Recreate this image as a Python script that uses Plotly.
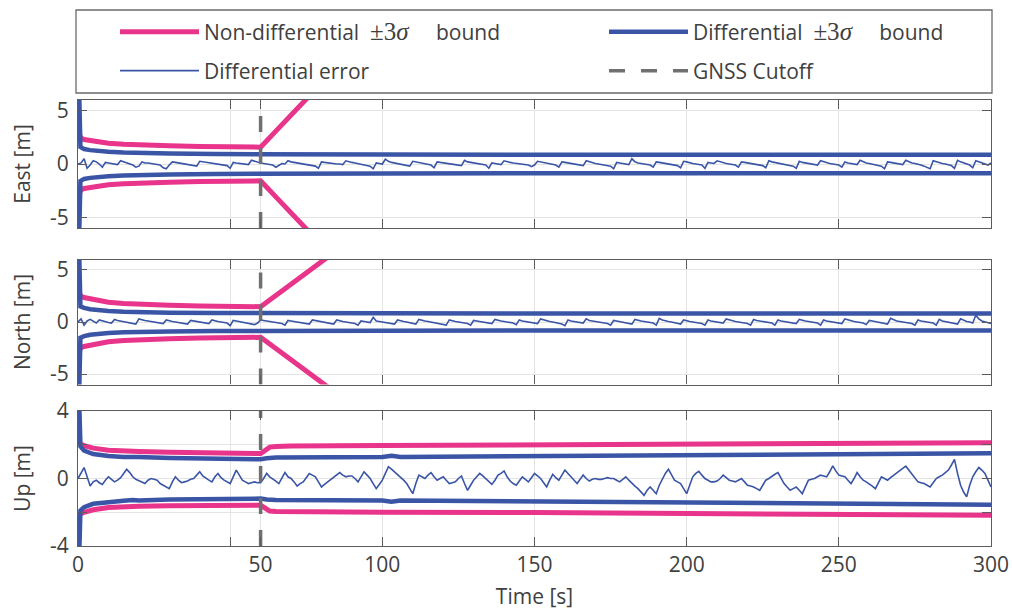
import plotly.graph_objects as go

# ---------------- data ----------------
t_err = list(range(0, 301))

east_err = [
    0.0, 0.1, 0.5, -0.4, -0.1, 0.3, 0.2, 0.0, -0.3, 0.15, 0.1, 0.05, 0.0, -0.05, 0.3, 0.2, 0.1, 0.05, -0.1, -0.3,
    -0.2, 0.2, 0.1, 0.1, 0.05, 0.0, -0.05, -0.1, -0.35, -0.45, -0.1, 0.2, 0.15, 0.1, 0.1, 0.05, 0.0, -0.05, -0.1, -0.2,
    0.25, 0.2, 0.15, 0.1, 0.1, 0.05, 0.0, -0.05, -0.1, -0.15, -0.4, 0.15, 0.1, 0.05, 0.05, 0.0, -0.05, 0.35, 0.25, 0.15,
    0.1, 0.05, 0.0, -0.05, -0.1, -0.3, -0.1, 0.05, 0.0, 0.3, 0.2, 0.15, 0.1, 0.05, 0.0, -0.05, -0.1, -0.15, -0.2, -0.4,
    0.2, 0.15, 0.1, 0.1, 0.05, 0.0, 0.0, -0.05, 0.3, 0.2, 0.15, 0.1, 0.05, 0.0, -0.05, -0.1, -0.2, -0.45, 0.1, 0.05,
    0.0, 0.45, 0.25, 0.15, 0.1, 0.05, 0.0, -0.05, -0.1, -0.2, 0.25, 0.2, 0.1, 0.05, 0.0, -0.05, -0.1, -0.35, 0.2, 0.15,
    0.1, 0.05, 0.05, 0.0, -0.05, -0.1, -0.15, 0.35, 0.2, 0.15, 0.1, 0.05, 0.0, -0.05, -0.1, -0.4, 0.1, 0.05, 0.0, -0.05,
    0.3, 0.2, 0.15, 0.1, 0.05, 0.05, 0.0, -0.05, -0.1, -0.25, -0.1, 0.25, 0.2, 0.1, 0.05, 0.0, -0.05, -0.1, -0.3, 0.2,
    0.15, 0.1, 0.05, 0.0, -0.05, -0.1, -0.15, 0.3, 0.2, 0.1, 0.05, 0.0, -0.05, -0.1, -0.15, -0.2, -0.45, 0.15, 0.1, 0.05,
    0.0, -0.05, 0.5, 0.2, 0.1, 0.05, 0.0, -0.05, -0.1, -0.3, 0.2, 0.15, 0.1, 0.05, 0.0, -0.05, -0.1, -0.15, -0.35, 0.25,
    0.2, 0.1, 0.05, 0.0, -0.05, -0.1, -0.4, 0.15, 0.1, 0.05, 0.3, 0.2, 0.1, 0.05, 0.0, -0.05, -0.1, -0.3, 0.2, 0.15,
    0.1, 0.05, 0.0, -0.05, -0.1, -0.15, -0.35, 0.3, 0.2, 0.15, 0.1, 0.05, 0.0, -0.05, -0.1, -0.2, -0.4, 0.25, 0.15, 0.1,
    0.05, 0.0, -0.05, -0.1, 0.3, 0.2, 0.1, 0.05, 0.0, -0.05, -0.1, -0.3, 0.2, 0.1, 0.05, 0.0, -0.05, 0.35, 0.2, 0.1,
    0.05, 0.0, -0.05, -0.1, -0.2, -0.45, 0.2, 0.15, 0.1, 0.05, 0.0, -0.05, 0.35, 0.2, 0.1, 0.05, 0.0, -0.1, -0.2, -0.3,
    -0.45, 0.3, 0.2, 0.1, 0.05, 0.0, -0.05, -0.15, -0.4, 0.35, 0.2, 0.1, 0.0, -0.1, -0.35, 0.3, 0.2, 0.1, 0.0, -0.1,
    0.1]

north_err = [
    0.0, 0.3, -0.3, 0.1, 0.25, 0.05, -0.1, 0.2, 0.1, 0.0, -0.05, -0.1, 0.25, 0.15, 0.1, 0.05, 0.0, -0.05, -0.1, -0.2,
    0.3, 0.2, 0.15, 0.1, 0.05, 0.0, -0.05, -0.1, -0.15, 0.2, 0.1, 0.05, 0.0, -0.05, -0.1, -0.15, -0.2, 0.15, 0.1, 0.0,
    -0.05, -0.1, -0.1, -0.15, 0.2, 0.1, 0.05, 0.0, -0.05, -0.1, -0.35, 0.15, 0.1, 0.05, 0.0, -0.05, -0.1, -0.15, -0.25, -0.1,
    0.2, 0.15, 0.1, 0.05, 0.0, -0.05, -0.1, -0.15, -0.3, 0.15, 0.1, 0.05, 0.0, -0.05, -0.1, -0.15, -0.2, 0.2, 0.15, 0.1,
    0.05, 0.0, -0.05, -0.1, -0.2, 0.2, 0.1, 0.05, 0.0, -0.05, -0.1, -0.15, -0.3, 0.1, 0.05, 0.0, -0.05, 0.45, 0.1, 0.05,
    0.0, -0.05, -0.1, -0.15, -0.2, 0.2, 0.1, 0.05, 0.0, -0.05, -0.1, -0.2, 0.25, 0.15, 0.1, 0.05, 0.0, -0.05, -0.1, -0.15,
    -0.25, -0.3, 0.2, 0.1, 0.05, 0.0, -0.05, -0.1, -0.15, -0.3, 0.15, 0.1, 0.05, 0.0, -0.05, -0.1, -0.15, 0.25, 0.15, 0.1,
    0.05, 0.0, -0.05, -0.1, -0.25, 0.2, 0.1, 0.05, 0.0, -0.05, -0.1, -0.15, 0.3, 0.2, 0.1, 0.05, 0.0, -0.05, -0.1, -0.2,
    -0.35, 0.2, 0.1, 0.05, 0.0, -0.05, -0.1, 0.3, 0.15, 0.1, 0.05, 0.0, -0.05, -0.1, -0.15, -0.3, 0.15, 0.1, 0.05, 0.0,
    -0.05, -0.1, -0.2, 0.25, 0.15, 0.1, 0.05, 0.0, -0.05, -0.1, -0.3, 0.35, 0.2, 0.1, 0.05, 0.0, -0.05, -0.1, -0.2, 0.2,
    0.1, 0.05, 0.0, -0.05, -0.1, -0.15, -0.3, 0.2, 0.1, 0.05, 0.0, -0.05, -0.1, 0.3, 0.2, 0.1, 0.05, 0.0, -0.05, -0.1,
    -0.15, -0.3, 0.25, 0.15, 0.1, 0.05, 0.0, -0.05, -0.1, -0.3, 0.2, 0.1, 0.05, 0.0, -0.05, -0.1, -0.15, 0.25, 0.15, 0.1,
    0.05, 0.0, -0.05, -0.1, -0.3, 0.2, 0.1, 0.05, 0.0, -0.05, -0.1, -0.15, 0.3, 0.2, 0.1, 0.05, 0.0, -0.05, -0.1, -0.25,
    0.15, 0.1, 0.05, 0.0, -0.05, -0.1, -0.2, 0.35, 0.2, 0.1, 0.05, 0.0, -0.05, -0.1, -0.15, -0.3, 0.2, 0.1, 0.05, 0.0,
    -0.05, -0.1, -0.3, 0.25, 0.1, 0.05, 0.0, -0.05, -0.1, -0.2, 0.3, 0.15, 0.05, 0.0, -0.1, 0.65, 0.3, 0.1, 0.0, -0.1,
    -0.15]

up_err = [
    0.0, 0.3, 0.65, 0.1, -0.45, -0.2, -0.1, -0.25, -0.35, -0.1, 0.1, -0.05, -0.2, -0.1, 0.05, 0.3, 0.55, 0.35, 0.1, -0.05,
    -0.15, -0.2, -0.3, -0.1, 0.0, -0.05, -0.1, -0.3, -0.4, -0.5, -0.6, -0.2, 0.1, -0.1, -0.25, -0.2, -0.15, -0.05, 0.0, 0.2,
    0.4, 0.15, 0.0, -0.1, -0.2, 0.1, 0.3, 0.05, -0.1, -0.2, -0.3, 0.1, 0.5, 0.2, -0.1, -0.2, -0.3, -0.25, -0.2, -0.25,
    -0.25, 0.0, 0.3, 0.1, 0.0, -0.15, -0.3, 0.0, 0.35, 0.1, 0.0, -0.2, -0.45, -0.3, -0.2, 0.05, 0.3, 0.2, 0.1, -0.2,
    -0.5, -0.35, -0.2, -0.05, 0.1, 0.25, 0.35, 0.2, 0.1, 0.15, 0.15, 0.0, -0.2, 0.1, 0.4, 0.2, 0.0, -0.3, -0.6, -0.35,
    -0.1, 0.3, 0.7, 0.55, 0.4, 0.25, 0.1, -0.1, -0.3, -0.6, -0.9, -0.3, 0.2, 0.1, 0.0, 0.2, 0.35, 0.1, -0.1, 0.0,
    0.1, -0.1, -0.3, -0.25, -0.2, 0.0, 0.15, -0.3, -0.7, -0.4, -0.1, 0.1, 0.3, 0.15, 0.0, -0.2, -0.35, -0.1, 0.2, 0.3,
    0.45, 0.1, -0.15, -0.3, -0.4, -0.15, 0.1, -0.05, -0.2, 0.05, 0.3, 0.15, 0.0, -0.25, -0.5, -0.1, 0.25, 0.05, -0.1, 0.2,
    0.5, 0.3, 0.1, -0.1, -0.3, -0.05, 0.2, 0.0, -0.15, -0.05, 0.0, -0.05, -0.05, 0.0, 0.05, 0.0, 0.0, -0.1, -0.2, -0.05,
    0.1, -0.1, -0.3, -0.45, -0.6, -0.8, -1.0, -0.7, -0.5, -0.7, -0.9, -0.4, 0.0, 0.3, 0.55, 0.2, -0.1, -0.2, -0.3, -0.6,
    -0.9, -0.4, 0.1, 0.3, 0.43, 0.2, 0.0, -0.1, -0.2, -0.2, -0.15, 0.0, 0.2, 0.05, -0.1, -0.15, -0.2, -0.1, 0.0, -0.2,
    -0.4, -0.45, -0.5, -0.6, -0.7, -0.4, -0.1, 0.0, 0.15, 0.25, 0.35, 0.0, -0.3, -0.5, -0.7, -0.6, -0.5, -0.7, -0.9, -0.5,
    -0.1, -0.05, 0.0, 0.1, 0.2, 0.15, 0.1, 0.4, 0.75, 0.45, 0.2, 0.15, 0.1, -0.1, -0.3, 0.0, 0.35, 0.1, -0.1, -0.2,
    -0.3, -0.45, -0.6, -0.25, 0.1, 0.0, -0.1, 0.05, 0.2, 0.35, 0.5, 0.6, 0.73, 0.5, 0.3, 0.05, -0.2, -0.25, -0.3, -0.4,
    -0.5, -0.25, 0.0, 0.1, 0.2, 0.35, 0.5, 0.8, 1.13, 0.3, -0.4, -0.8, -1.09, -0.4, 0.1, 0.4, 0.65, 0.5, 0.3, -0.1,
    -0.5]

assert len(east_err) == len(t_err) and len(north_err) == len(t_err) and len(up_err) == len(t_err)

# non-differential +-3 sigma bounds (upper half; lower is symmetric)
t_nd_east = [0.3, 0.8, 2, 5, 10, 15, 20, 30, 40, 50, 60, 65, 70, 75, 80]
nd_east = [3.1, 2.45, 2.3, 2.15, 1.95, 1.85, 1.78, 1.7, 1.63, 1.6, 1.58, 3.08, 4.58, 6.08, 7.58]

t_nd_north = [0.3, 0.8, 2, 5, 10, 15, 20, 30, 40, 50, 60, 70, 80, 90]
nd_north = [3.0, 2.5, 2.35, 2.15, 1.9, 1.78, 1.7, 1.6, 1.53, 1.5, 1.47, 3.63, 5.79, 7.95]

t_nd_up = [0.3, 0.8, 2, 5, 10, 15, 20, 30, 40, 50, 60, 61, 62, 63, 65, 70, 100, 150, 200, 250, 300]
nd_up_hi = [2.2, 2.05, 1.95, 1.8, 1.68, 1.62, 1.6, 1.55, 1.52, 1.5, 1.48,
            1.6, 1.78, 1.86, 1.9, 1.92, 1.95, 1.98, 2.03, 2.08, 2.12]
nd_up_lo = [-2.2, -2.1, -2.0, -1.85, -1.72, -1.67, -1.64, -1.62, -1.6, -1.59, -1.58,
            -1.7, -1.85, -1.93, -1.96, -1.97, -2.0, -2.02, -2.07, -2.12, -2.18]

# differential +-3 sigma bounds
t_d = [0, 0.4, 0.8, 2, 4, 7, 10, 15, 20, 30, 45, 60, 100, 150, 200, 250, 300]
d_east = [8, 6.5, 1.6, 1.4, 1.3, 1.2, 1.15, 1.08, 1.03, 0.98, 0.93, 0.9, 0.88, 0.87, 0.86, 0.86, 0.86]
d_north = [8, 6.5, 1.5, 1.35, 1.22, 1.12, 1.05, 0.98, 0.94, 0.9, 0.86, 0.84, 0.83, 0.82, 0.82, 0.82, 0.82]

t_d_up = [0, 0.4, 0.8, 2, 5, 10, 15, 18, 20, 30, 40, 50, 60, 62, 65, 100, 103, 106, 150, 200, 250, 300]
d_up_hi = [5, 4.5, 1.9, 1.65, 1.45, 1.33, 1.28, 1.3, 1.27, 1.22, 1.18, 1.15, 1.14,
           1.2, 1.25, 1.28, 1.35, 1.28, 1.32, 1.36, 1.42, 1.49]
d_up_lo = [-5, -4.5, -1.9, -1.7, -1.5, -1.38, -1.32, -1.28, -1.3, -1.25, -1.22, -1.2, -1.19,
           -1.25, -1.28, -1.3, -1.38, -1.31, -1.35, -1.42, -1.48, -1.55]

gnss_cutoff = 60

x_tick_vals = [0, 50, 60, 100, 150, 200, 250, 300]
x_tick_text = ["0", "", "50", "100", "150", "200", "250", "300"]
en_tick_vals = [-5, 0, 5]
en_tick_text = ["-5", "0", "5"]
up_tick_vals = [-4, -2, 0, 2, 4]
up_tick_text = ["-4", "", "0", "", "4"]
panel_titles = ["East [m]", "North [m]", "Up [m]"]

# ---------------- style ----------------
PINK = "#E8348A"
BLUE = "#3A55A5"
GRAY = "#707070"
AX = "#5c5c5c"
TXT = "#404040"
FONT = "Open Sans"
FS = 21

fig = go.Figure()

NB = "\u00a0"
SIG = "<span style='font-family:Liberation Serif;font-size:25px'>±3<i>σ</i></span>"
names = {
    "nd": "Non-differential" + NB * 2 + SIG + NB * 5 + "bound",
    "d": "Differential" + NB * 2 + SIG + NB * 5 + "bound",
    "err": "Differential error",
    "cut": "GNSS Cutoff",
}

panels = [
    dict(xa="x", ya="y", t_nd=t_nd_east, nd_hi=nd_east, nd_lo=[-v for v in nd_east],
         t_d=t_d, d_hi=d_east, d_lo=[-v for v in d_east], err=east_err, yr=[-6, 6]),
    dict(xa="x2", ya="y2", t_nd=t_nd_north, nd_hi=nd_north, nd_lo=[-v for v in nd_north],
         t_d=t_d, d_hi=d_north, d_lo=[-v for v in d_north], err=north_err, yr=[-6, 6]),
    dict(xa="x3", ya="y3", t_nd=t_nd_up, nd_hi=nd_up_hi, nd_lo=nd_up_lo,
         t_d=t_d_up, d_hi=d_up_hi, d_lo=d_up_lo, err=up_err, yr=[-4, 4]),
]

for i, p in enumerate(panels):
    first = i == 0
    fig.add_trace(go.Scatter(
        x=p["t_nd"] + [None] + p["t_nd"], y=p["nd_hi"] + [None] + p["nd_lo"],
        mode="lines", line=dict(color=PINK, width=5), name=names["nd"],
        legend="legend", legendgroup="nd", showlegend=first,
        xaxis=p["xa"], yaxis=p["ya"], connectgaps=False))
    fig.add_trace(go.Scatter(
        x=p["t_d"] + [None] + p["t_d"], y=p["d_hi"] + [None] + p["d_lo"],
        mode="lines", line=dict(color=BLUE, width=4.5), name=names["d"],
        legend="legend2", legendgroup="d", showlegend=first,
        xaxis=p["xa"], yaxis=p["ya"], connectgaps=False))
    fig.add_trace(go.Scatter(
        x=t_err, y=p["err"], mode="lines", line=dict(color=BLUE, width=1.6),
        name=names["err"], legend="legend3", legendgroup="err", showlegend=first,
        xaxis=p["xa"], yaxis=p["ya"]))
    fig.add_trace(go.Scatter(
        x=[gnss_cutoff, gnss_cutoff], y=p["yr"], mode="lines",
        line=dict(color=GRAY, width=3.5, dash="16px,16px"),
        name=names["cut"], legend="legend4", legendgroup="cut", showlegend=first,
        xaxis=p["xa"], yaxis=p["ya"]))

# ---------------- layout ----------------
L, R, T, B = 78, 21, 100, 64
W, H = 1012, 610
ph = H - T - B


def yfrac(px):
    return (H - B - px) / ph


def xfrac(px):
    return (px - L) / (W - L - R)


domains = [[yfrac(228), 1.0], [yfrac(384.5), yfrac(259.5)], [0.0, yfrac(411)]]

common_x = dict(range=[0, 300], tickmode="array", tickvals=x_tick_vals, ticktext=x_tick_text,
                ticks="inside", ticklen=9, tickwidth=1.3, tickcolor=AX,
                showline=True, linecolor=AX, linewidth=1.3, mirror="allticks",
                showgrid=True, gridcolor="#e4e4e4", gridwidth=1, zeroline=False,
                tickfont=dict(family=FONT, size=FS, color=TXT))
common_y = dict(ticks="inside", ticklen=9, tickwidth=1.3, tickcolor=AX,
                showline=True, linecolor=AX, linewidth=1.3, mirror="allticks",
                showgrid=True, gridcolor="#e4e4e4", gridwidth=1, zeroline=False,
                tickfont=dict(family=FONT, size=FS, color=TXT), tickmode="array",
                ticklabelstandoff=4)

layout = dict(
    width=W, height=H, template="none",
    paper_bgcolor="white", plot_bgcolor="white",
    margin=dict(l=L, r=R, t=T, b=B, autoexpand=False),
    font=dict(family=FONT, size=FS, color=TXT),
)
for i in range(3):
    sx = "" if i == 0 else str(i + 1)
    xa = dict(common_x, anchor="y" + sx, domain=[0, 1], showticklabels=(i == 2))
    if i < 2:
        xa["matches"] = "x3"
    else:
        xa["title"] = dict(text="Time [s]", font=dict(family=FONT, size=FS, color=TXT), standoff=12)
    ya = dict(common_y, anchor="x" + sx, domain=domains[i],
              title=dict(text=panel_titles[i], font=dict(family=FONT, size=FS, color=TXT), standoff=13))
    if i < 2:
        ya.update(range=[-6, 6], tickvals=en_tick_vals, ticktext=en_tick_text)
    else:
        ya.update(range=[-4, 4], tickvals=up_tick_vals, ticktext=up_tick_text)
    layout["xaxis" + sx] = xa
    layout["yaxis" + sx] = ya

legend_common = dict(orientation="h", xref="paper", yref="paper", xanchor="left", yanchor="middle",
                     bgcolor="rgba(0,0,0,0)", borderwidth=0, itemwidth=79,
                     font=dict(family=FONT, size=FS, color=TXT), itemclick=False, itemdoubleclick=False)
col_px = [115, 604]
row_px = [32, 71]
layout["legend"] = dict(legend_common, x=xfrac(col_px[0]), y=yfrac(row_px[0]))
layout["legend2"] = dict(legend_common, x=xfrac(col_px[1]), y=yfrac(row_px[0]))
layout["legend3"] = dict(legend_common, x=xfrac(col_px[0]), y=yfrac(row_px[1]))
layout["legend4"] = dict(legend_common, x=xfrac(col_px[1]), y=yfrac(row_px[1]))

layout["shapes"] = [dict(type="rect", xref="paper", yref="paper",
                         x0=xfrac(76), x1=xfrac(992), y0=yfrac(93), y1=yfrac(10),
                         line=dict(color="#6b6b6b", width=1.3), fillcolor="rgba(0,0,0,0)")]

fig.update_layout(**layout)
fig.write_html("out.html", config={"displayModeBar": False},
               post_script="document.body.style.margin='0';")
